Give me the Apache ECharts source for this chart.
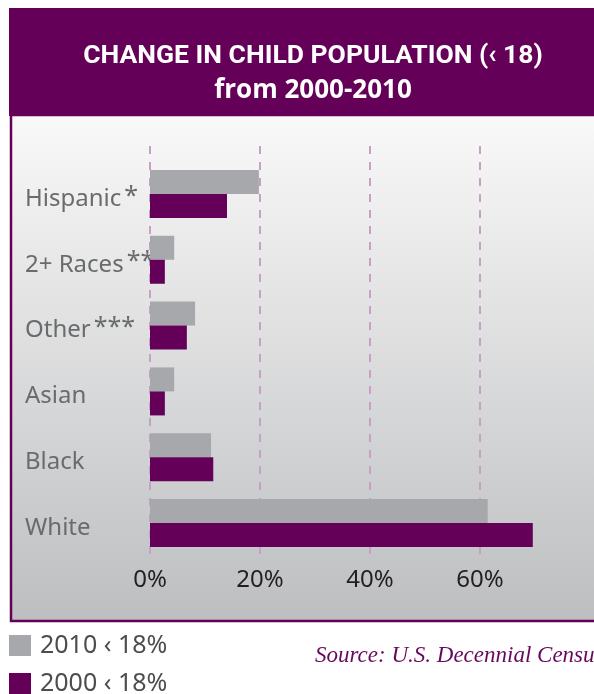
<!DOCTYPE html>
<html>
<head>
<meta charset="utf-8">
<script src="https://cdn.jsdelivr.net/npm/echarts@6/dist/echarts.min.js"></script>
<style>
  html, body { margin: 0; padding: 0; background: #ffffff; }
  #chart { width: 594px; height: 694px; }
</style>
</head>
<body>
<div id="chart"></div>
<script>
var categories = ['Hispanic', '2+ Races', 'Other', 'Asian', 'Black', 'White'];
var footnoteMarks = ['*', '**', '***', '', '', ''];
var values2010 = [19.8, 4.4, 8.2, 4.4, 11.1, 61.4];
var values2000 = [14.0, 2.7, 6.7, 2.7, 11.5, 69.6];
var seriesNames = ['2010 \u2039 18%', '2000 \u2039 18%'];
var xTicks = [0, 20, 40, 60];

var purple = '#650059';
var grey = '#a7a8ab';

var myChart = echarts.init(document.getElementById('chart'));

var legendText = {
    color: '#4d4d4f',
    fontFamily: "'Noto Sans', sans-serif",
    fontSize: 25,
    padding: [0, 0, 0, 4]
};

var option = {
    animation: false,
    title: [{
        text: 'CHANGE IN CHILD POPULATION (\u2039 18)',
        subtext: 'from 2000-2010',
        left: 313,
        top: 41,
        textAlign: 'center',
        padding: 0,
        itemGap: 5,
        textStyle: {
            color: '#ffffff',
            fontFamily: "'Roboto', sans-serif",
            fontWeight: 'bold',
            fontSize: 26.5,
            lineHeight: 30
        },
        subtextStyle: {
            color: '#ffffff',
            fontFamily: "'Open Sans', 'Noto Sans', sans-serif",
            fontWeight: 'bold',
            fontSize: 26,
            lineHeight: 30
        }
    }, {
        text: 'Source: U.S. Decennial Census',
        left: 315,
        top: 644,
        padding: 0,
        textStyle: {
            color: '#660a5e',
            fontFamily: "'Liberation Serif', serif",
            fontStyle: 'italic',
            fontWeight: 'normal',
            fontSize: 23
        }
    }],
    graphic: {
        elements: [{
            type: 'rect',
            z: -100,
            shape: { x: 9, y: 8, width: 620, height: 108 },
            style: { fill: purple }
        }, {
            type: 'rect',
            z: -100,
            shape: { x: 11, y: 115, width: 620, height: 506 },
            style: {
                fill: new echarts.graphic.LinearGradient(0, 0, 0, 1, [
                    { offset: 0, color: '#f9f9f9' },
                    { offset: 1, color: '#bdbec0' }
                ]),
                stroke: purple,
                lineWidth: 2.5
            }
        }]
    },
    legend: [{
        left: 9,
        top: 633,
        padding: 0,
        itemWidth: 22,
        itemHeight: 21,
        icon: 'rect',
        data: [seriesNames[0]],
        textStyle: legendText
    }, {
        left: 9,
        top: 671,
        padding: 0,
        itemWidth: 22,
        itemHeight: 21,
        icon: 'rect',
        data: [seriesNames[1]],
        textStyle: legendText
    }],
    grid: [
        { left: 150, width: 440, top: 146, height: 416 },
        { left: 150, width: 440, top: 161, height: 395 }
    ],
    xAxis: [{
        gridIndex: 0,
        type: 'value',
        min: 0,
        max: 80,
        interval: 20,
        axisLine: { show: false },
        axisTick: { show: false },
        axisLabel: {
            showMaxLabel: false,
            margin: 6,
            color: '#231f20',
            fontFamily: "'Noto Sans', sans-serif",
            fontSize: 24,
            formatter: function (v) {
                return xTicks.indexOf(v) >= 0 ? v + '%' : '';
            }
        },
        splitLine: {
            show: true,
            showMaxLine: false,
            lineStyle: { color: '#c79fc7', width: 2, type: [8, 8] }
        }
    }, {
        gridIndex: 1,
        type: 'value',
        min: 0,
        max: 80,
        show: false,
        splitLine: { show: false }
    }],
    yAxis: [{
        gridIndex: 0,
        type: 'value',
        show: false,
        splitLine: { show: false }
    }, {
        gridIndex: 1,
        type: 'category',
        inverse: true,
        data: categories,
        axisLine: { show: false },
        axisTick: { show: false },
        axisLabel: {
            align: 'left',
            margin: 125,
            padding: [10, 0, 0, 0],
            formatter: function (v, i) {
                var s = '{n|' + v + '}';
                if (footnoteMarks[i]) s += '{s|' + footnoteMarks[i] + '}';
                return s;
            },
            rich: {
                n: {
                    color: '#6a6b6d',
                    fontFamily: "'Noto Sans', sans-serif",
                    fontSize: 24,
                    lineHeight: 30
                },
                s: {
                    color: '#6a6b6d',
                    fontFamily: "'Noto Sans', sans-serif",
                    fontSize: 25,
                    lineHeight: 18,
                    verticalAlign: 'top',
                    padding: [0, 0, 0, 3]
                }
            }
        }
    }],
    series: [{
        name: seriesNames[0],
        type: 'bar',
        xAxisIndex: 1,
        yAxisIndex: 1,
        data: values2010,
        barWidth: 24,
        barGap: '0%',
        itemStyle: { color: grey }
    }, {
        name: seriesNames[1],
        type: 'bar',
        xAxisIndex: 1,
        yAxisIndex: 1,
        data: values2000,
        barWidth: 24,
        barGap: '0%',
        itemStyle: { color: purple }
    }]
};

myChart.setOption(option);
</script>
</body>
</html>
